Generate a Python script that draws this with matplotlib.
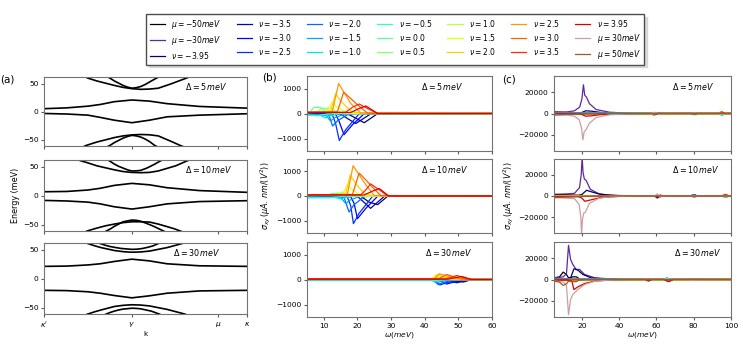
import matplotlib
matplotlib.use("Agg")
import matplotlib.pyplot as plt
import numpy as np

plt.rcParams['font.size'] = 5.4
plt.rcParams['axes.edgecolor'] = '0.45'
plt.rcParams['xtick.color'] = '0.35'
plt.rcParams['ytick.color'] = '0.35'
plt.rcParams['xtick.labelcolor'] = 'black'
plt.rcParams['ytick.labelcolor'] = 'black'
plt.rcParams['xtick.major.size'] = 2.5
plt.rcParams['ytick.major.size'] = 2.5
plt.rcParams['xtick.major.pad'] = 1.5
plt.rcParams['ytick.major.pad'] = 1.5

# ---------------- legend / series ----------------
nus = [-3.95, -3.5, -3.0, -2.5, -2.0, -1.5, -1.0, -0.5, 0.0, 0.5,
       1.0, 1.5, 2.0, 2.5, 3.0, 3.5, 3.95]
nu_labels = ['-3.95', '-3.5', '-3.0', '-2.5', '-2.0', '-1.5', '-1.0', '-0.5', '0.0', '0.5',
             '1.0', '1.5', '2.0', '2.5', '3.0', '3.5', '3.95']
mus_neg = [-50, -30]
mus_pos = [30, 50]
mu_colors = {-50: 'black', -30: '#5b2a9e', 30: '#c9a0a0', 50: '#9c5a32'}
nu_colors = plt.cm.jet(np.linspace(0, 0.92, len(nus)))

deltas = [5, 10, 30]

# ---------------- panel (a): bands ----------------
k_ticks = [0, 1.0, 1.98, 2.31]
k_labels = [r"$\kappa'$", r"$\gamma$", r"$\mu$", r"$\kappa$"]
k_flat = [0, 0.26, 0.5, 0.64, 0.8, 1.0, 1.2, 1.4, 1.77, 2.31]

flat_up = {5: [5.5, 7, 10, 13, 18, 21, 19, 14.5, 9.5, 6.5],
           10: [7, 7.5, 10, 13, 18, 21.5, 19, 14, 9, 6],
           30: [21.5, 22, 24, 26, 30, 34, 31, 26, 22.5, 21.5]}
flat_dn = {5: [-3, -4, -6, -10, -15, -19.5, -15, -9, -6, -3.5],
           10: [-8, -9, -11, -14, -19, -23, -19, -14, -10, -8.5],
           30: [-20, -20.5, -22.5, -25, -29, -33, -29.5, -25, -21, -20]}

disp_k = {
    5: [[0.42, 0.5, 0.6, 0.7, 0.8, 0.9, 1.0, 1.1, 1.2, 1.3, 1.45, 1.62, 1.7],
        [0.7, 0.75, 0.8, 0.85, 0.9, 0.95, 1.0, 1.05, 1.1, 1.15, 1.2, 1.28, 1.33],
        [0.4, 0.48, 0.6, 0.7, 0.8, 0.9, 1.0, 1.1, 1.2, 1.3, 1.45, 1.55, 1.63],
        [0.7, 0.75, 0.8, 0.85, 0.9, 0.95, 1.0, 1.05, 1.1, 1.15, 1.2, 1.26, 1.31]],
    10: [[0.35, 0.41, 0.5, 0.6, 0.8, 0.9, 1.0, 1.1, 1.2, 1.3, 1.5, 1.62, 1.7],
         [0.7, 0.75, 0.8, 0.85, 0.9, 0.95, 1.0, 1.05, 1.1, 1.17, 1.25, 1.32, 1.37],
         [0.43, 0.49, 0.6, 0.7, 0.8, 0.9, 1.0, 1.1, 1.2, 1.3, 1.48, 1.55, 1.62],
         [0.66, 0.71, 0.76, 0.8, 0.85, 0.9, 1.0, 1.05, 1.1, 1.17, 1.25, 1.36, 1.41]],
    30: [[0.43, 0.5, 0.58, 0.65, 0.8, 0.9, 1.0, 1.1, 1.2, 1.3, 1.4, 1.57, 1.64],
         [0.58, 0.64, 0.7, 0.75, 0.82, 0.88, 1.0, 1.06, 1.12, 1.18, 1.24, 1.30, 1.36],
         [0.43, 0.5, 0.58, 0.65, 0.8, 0.9, 1.0, 1.1, 1.2, 1.3, 1.4, 1.6, 1.67],
         [0.65, 0.71, 0.75, 0.8, 0.85, 0.9, 1.0, 1.05, 1.1, 1.16, 1.22, 1.31, 1.37]],
}
disp_e = {
    5: [[66, 60, 55, 51, 47, 43.5, 41.2, 40, 40.5, 42, 50, 60, 65],
        [64, 60, 55, 51, 47, 44, 42, 43, 45, 48.5, 53, 60, 64],
        [-66, -60, -54, -50, -46, -43, -41.2, -40.5, -41, -43, -53, -60, -65],
        [-64, -60, -55, -51, -47, -44, -42, -43, -45, -48.5, -53, -60, -64]],
    10: [[66, 61, 57, 52, 45, 42, 40.5, 40, 40.5, 43, 52, 60, 65],
         [64, 60, 55, 51, 48, 45, 43, 43.2, 44, 48, 54, 60, 64],
         [-66, -61, -56, -52, -49, -46.5, -45, -45, -45.5, -49, -57, -61, -65],
         [-65, -61, -57, -53, -49, -45, -42, -42.5, -44, -48, -53, -61, -65]],
    30: [[65, 61, 57, 54, 49, 47, 46, 46.5, 48, 51, 54, 61, 65],
         [65, 61, 58, 56, 54, 52.5, 51, 51.3, 52.5, 54.5, 57, 61, 65],
         [-65, -61, -57, -54, -48, -46, -45, -45.5, -47, -50, -53, -61, -65],
         [-65, -61, -58.5, -56, -54, -52.5, -51, -51.3, -52, -54, -56, -61, -65]],
}

# ---------------- panel (b): sigma_xy vs omega, nu series ----------------
sig_b = {
    5: [
        [(5, -20), (17, -10), (19, -150), (22, -370), (26, -5), (60, 0)],
        [(5, -25), (15, -15), (17, -200), (19.5, -400), (24, -10), (60, 0)],
        [(5, -30), (13.5, -30), (14.5, -300), (16, -850), (18.5, -450), (22, -10), (60, 0)],
        [(5, -40), (12.5, -40), (13.5, -400), (14.6, -1080), (16.5, -650), (20.5, -10), (60, 0)],
        [(5, -50), (11.5, -50), (12.6, -500), (14, -300), (17, -50), (20, 0), (60, 0)],
        [(5, -60), (10.5, -60), (12, -300), (13.5, -150), (17, 0), (60, 0)],
        [(5, -70), (9, -80), (10.5, -170), (12, -80), (15, 0), (60, 0)],
        [(5, -60), (8, -90), (10, -40), (14, 0), (60, 0)],
        [(5, 30), (6.1, 80), (7, 250), (9, 240), (10.7, 30), (14, 0), (60, 0)],
        [(5, 40), (8, 60), (9.5, 220), (11, 180), (12.5, 20), (16, 0), (60, 0)],
        [(5, 40), (10, 50), (11.3, 230), (12.5, 180), (14, 40), (17, 0), (60, 0)],
        [(5, 40), (11, 50), (12.5, 450), (14, 250), (17, 30), (20, 0), (60, 0)],
        [(5, 50), (12, 60), (13.5, 800), (15, 500), (18, 100), (21, 0), (60, 0)],
        [(5, 50), (12.5, 60), (14.4, 1200), (16, 850), (18, 400), (21, 20), (60, 0)],
        [(5, 50), (14, 60), (15.9, 850), (18, 600), (20, 350), (23, 10), (60, 0)],
        [(5, 50), (16.5, 50), (18.5, 250), (20.5, 380), (23, 200), (26, 0), (60, 0)],
        [(5, 40), (18, 40), (20.5, 200), (22.5, 300), (26, 0), (60, 0)],
    ],
    10: [
        [(5, -20), (21, -10), (23.5, -250), (26, -350), (29, -5), (60, 0)],
        [(5, -25), (20, -15), (21.5, -200), (23.9, -500), (28, -10), (60, 0)],
        [(5, -30), (18, -30), (19, -300), (20, -920), (22.5, -500), (26, -10), (60, 0)],
        [(5, -40), (17, -40), (18, -400), (18.8, -1120), (20.5, -700), (24.5, -10), (60, 0)],
        [(5, -50), (16, -50), (17.5, -650), (19, -350), (22, -30), (25, 0), (60, 0)],
        [(5, -60), (15, -60), (16.5, -300), (18, -150), (21, 0), (60, 0)],
        [(5, -70), (13.5, -60), (15, -120), (16.5, -60), (19, 0), (60, 0)],
        [(5, -50), (12, -60), (14, -40), (17, 0), (60, 0)],
        [(5, 30), (11, 40), (12.5, 100), (14, 90), (15.5, 20), (18, 0), (60, 0)],
        [(5, 40), (12.5, 50), (14, 120), (15.5, 90), (17, 10), (20, 0), (60, 0)],
        [(5, 40), (14, 50), (15.5, 150), (17, 100), (19, 20), (22, 0), (60, 0)],
        [(5, 40), (15.5, 50), (17, 450), (18.5, 250), (21, 30), (24, 0), (60, 0)],
        [(5, 50), (16.5, 60), (17.8, 850), (19.5, 500), (22, 100), (25, 0), (60, 0)],
        [(5, 50), (17, 60), (18.7, 1230), (20.3, 900), (22.5, 450), (25, 20), (60, 0)],
        [(5, 50), (18.5, 60), (20.5, 930), (22.5, 650), (24.5, 350), (27, 10), (60, 0)],
        [(5, 50), (21, 50), (22.5, 250), (23.9, 490), (26.5, 250), (29, 0), (60, 0)],
        [(5, 40), (22, 40), (24.5, 200), (26.5, 300), (29.3, 0), (60, 0)],
    ],
    30: [
        [(5, -10), (47, -10), (49, -60), (51.5, -100), (54, 0), (60, 0)],
        [(5, -10), (46, -10), (47.5, -60), (49.5, -130), (53.5, 0), (60, 0)],
        [(5, -15), (44, -15), (45, -80), (46.5, -180), (49, -90), (52.5, 0), (60, 0)],
        [(5, -15), (43, -20), (44.5, -220), (46.5, -130), (51, 0), (60, 0)],
        [(5, -20), (42.5, -20), (44, -200), (45.5, -120), (49, 0), (60, 0)],
        [(5, -20), (42, -20), (43.5, -130), (45, -70), (48, 0), (60, 0)],
        [(5, -20), (42, -20), (43, -80), (44.5, -40), (47, 0), (60, 0)],
        [(5, -20), (42, -20), (43, -40), (46, 0), (60, 0)],
        [(5, 10), (42, 10), (43, 50), (45, 0), (60, 0)],
        [(5, 15), (42, 15), (43, 80), (44.5, 40), (47, 0), (60, 0)],
        [(5, 15), (42, 15), (43, 120), (44.5, 60), (47, 0), (60, 0)],
        [(5, 15), (42, 20), (43.3, 170), (45, 90), (48, 0), (60, 0)],
        [(5, 20), (42.5, 20), (43.8, 200), (45.5, 110), (49, 0), (60, 0)],
        [(5, 20), (43, 20), (44.3, 230), (46.5, 140), (51, 0), (60, 0)],
        [(5, 20), (44, 20), (45, 90), (46.5, 200), (49, 100), (52.5, 0), (60, 0)],
        [(5, 20), (46, 20), (47.5, 70), (49.5, 160), (53.5, 0), (60, 0)],
        [(5, 15), (47, 15), (49, 70), (51, 120), (54, 0), (60, 0)],
    ],
}

# ---------------- panel (c): mu series ----------------
sig_c_mu = {
    5: {
        -50: [(5, 1500), (12, 800), (20, 300), (30, 0), (100, 0)],
        -30: [(5, 1200), (12, 1500), (16, 2500), (18.8, 6000), (20, 13800), (20.8, 26800),
              (21.5, 17000), (22.4, 15400), (24, 9200), (27.6, 3700), (34.8, 1200), (45, 300),
              (57, 0), (58.5, -1500), (60, -500), (61, 1000), (62.5, 0), (100, 0)],
        30: [(5, -1200), (12, -1500), (16, -2500), (18.6, -6000), (19.8, -13800), (20.5, -24600),
             (21.2, -17000), (22.1, -15400), (24, -9200), (27.6, -3700), (34.8, -1200), (45, -300),
             (57, 0), (58.5, 1200), (60, 500), (61, -1000), (62.5, 0), (100, 0)],
        50: [(5, -1500), (12, -800), (20, -300), (30, 0), (100, 0)],
    },
    10: {
        -50: [(5, 1500), (12, 1000), (20, 400), (30, 0), (100, 0)],
        -30: [(5, 1500), (12, 2000), (16, 2500), (18.7, 8000), (19.6, 20000), (20.1, 37000),
              (20.6, 22000), (21.3, 16000), (22.2, 14900), (24.5, 6300), (29, 2200), (35, 700),
              (50, 0), (59, 0), (60.5, -2000), (62, 1000), (63.5, 0), (100, 0)],
        30: [(5, -1500), (12, -2000), (16, -2500), (18.5, -8000), (19.4, -20000), (19.8, -37000),
             (20.3, -22000), (21, -16000), (21.8, -15500), (24, -7000), (29, -2200), (35, -700),
             (50, 0), (59, 0), (60.5, 2000), (62, -1000), (63.5, 0), (100, 0)],
        50: [(5, -1500), (12, -1000), (20, -400), (30, 0), (100, 0)],
    },
    30: {
        -50: [(5, 1500), (8, 2500), (9.9, 6900), (11.7, 4700), (12.8, 1500), (14, 1800),
              (15.1, 2500), (16.9, 2500), (18.7, 600), (22, 0), (100, 0)],
        -30: [(5, 1500), (8, 2000), (10, 2500), (11.7, 5600), (12.8, 31900), (13.9, 18750),
              (15.1, 14000), (16.9, 9400), (18.7, 9400), (21.4, 4700), (26.9, 1560), (35, 600),
              (45, 0), (100, 0)],
        30: [(5, -1500), (8, -2000), (10, -2500), (11.7, -5600), (12.8, -32800), (13.9, -18750),
             (15.1, -14000), (17.8, -9400), (21.4, -4700), (26.9, -1560), (35, -600), (45, 0),
             (77, 0), (79, -800), (81, 0), (83, 0), (84.5, -700), (86, 0), (100, 0)],
        50: [(5, -1500), (8, -2500), (9.9, -5600), (11.7, -4000), (12.8, -1500), (15.1, -2000),
             (16.9, -2000), (18.7, -500), (22, 0), (100, 0)],
    },
}

# ---------------- panel (c): nu series ----------------
sig_c_nu = {
    5: [
        [(5, 500), (18, 300), (20, 1000), (22, 2500), (25, 2200), (30, 1000), (40, 200),
         (58, 0), (59.5, -1000), (61, 0), (100, 0)],
        [(5, 300), (50, 0), (79, 0), (80.5, 800), (82, 0), (100, 0)],
        [(5, 300), (60, 0), (79, 0), (80.5, 600), (82, 0), (100, 0)],
        [(5, 200), (78, 0), (80, 500), (81.5, -300), (83, 0), (100, 0)],
        [(5, 200), (78, 0), (80, 800), (82, 0), (93, 0), (95, -600), (97, 0), (100, 0)],
        [(5, 100), (78, 0), (80, 1000), (82, 0), (93, 0), (95, -1000), (97, 0), (100, 0)],
        [(5, 100), (78, 0), (80.5, 600), (82, 0), (93, 0), (95.3, -1800), (97, 0), (100, 0)],
        [(5, 0), (93, 0), (95, -800), (97, 0), (100, 0)],
        [(5, 0), (100, 0)],
        [(5, 0), (93, 0), (95, 500), (97, 0), (100, 0)],
        [(5, -100), (93, 0), (95, 800), (97, 0), (100, 0)],
        [(5, -100), (93, 0), (95, 1000), (97, 0), (100, 0)],
        [(5, -200), (78, 0), (80, -500), (82, 0), (93, 0), (95, 1200), (97, 0), (100, 0)],
        [(5, -200), (78, 0), (80, -800), (82, 0), (93, 0), (95, 1500), (97, -300), (100, 0)],
        [(5, -300), (78, 0), (80.5, -1000), (82, 0), (93, 0), (95, 1800), (97, 0), (100, 0)],
        [(5, -300), (79, 0), (80.5, -700), (82, 0), (94, 0), (95.5, 1000), (97, 0), (100, 0)],
        [(5, -500), (18, -300), (20, -1000), (22, -2500), (25, -2200), (30, -1000), (40, -200),
         (58, 0), (60.5, -800), (62, 0), (100, 0)],
    ],
    10: [
        [(5, 800), (18, 500), (20, 1500), (22.5, 5400), (25, 4000), (30, 1500), (40, 300),
         (59, 0), (60.5, -1500), (62, 0), (100, 0)],
        [(5, 500), (60, 0), (78, 0), (80, 1000), (82, 0), (100, 0)],
        [(5, 400), (60, 0), (78, 0), (80.5, 1200), (82, 0), (100, 0)],
        [(5, 300), (78, 0), (80, 800), (82, -300), (83, 0), (100, 0)],
        [(5, 200), (78, 0), (80, 1000), (82, 0), (95, 0), (97, -800), (99, 0), (100, 0)],
        [(5, 100), (78, 0), (80, 900), (82, 0), (95, 0), (97, -1200), (99, 0), (100, 0)],
        [(5, 100), (78, 0), (80.5, 500), (82, 0), (95, 0), (97.5, -1500), (99, 0), (100, 0)],
        [(5, 0), (95, 0), (97, -600), (99, 0), (100, 0)],
        [(5, 0), (100, 0)],
        [(5, 0), (95, 0), (97, 400), (99, 0), (100, 0)],
        [(5, -100), (95, 0), (97, 700), (99, 0), (100, 0)],
        [(5, -100), (95, 0), (97, 900), (99, 0), (100, 0)],
        [(5, -200), (78, 0), (80, -600), (82, 0), (95, 0), (97, 1100), (99, 0), (100, 0)],
        [(5, -300), (78, 0), (80, -900), (82, 0), (95, 0), (97, 1400), (99, 0), (100, 0)],
        [(5, -400), (78, 0), (80.5, -1000), (82, 0), (95, 0), (97, 1700), (99, 0), (100, 0)],
        [(5, -500), (79, 0), (80.5, -600), (82, 0), (95, 0), (97, 1200), (99, 0), (100, 0)],
        [(5, -800), (18, -500), (20, -2000), (21.5, -5000), (24, -4000), (30, -1500), (40, -300),
         (59, 0), (61.5, -1000), (63, 0), (100, 0)],
    ],
    30: [
        [(5, 500), (12, 500), (13.9, 1500), (15.7, 10000), (17.8, 8750), (20.5, 4700), (25, 1500),
         (32, 500), (45, 0), (100, 0)],
        [(5, 300), (54, 0), (55.7, 600), (57.5, 0), (100, 0)],
        [(5, 300), (54, 0), (55.7, 400), (57.5, 0), (64, 0), (65.6, 600), (67, 0), (100, 0)],
        [(5, 200), (64, 0), (65.6, 800), (67, 0), (100, 0)],
        [(5, 200), (64, 0), (65.6, 1000), (67, 0), (100, 0)],
        [(5, 100), (64, 0), (65.6, 1300), (67, 0), (100, 0)],
        [(5, 100), (64, 0), (65.6, 1800), (67, 0), (100, 0)],
        [(5, 0), (64, 0), (65.8, 900), (67, 0), (100, 0)],
        [(5, 0), (100, 0)],
        [(5, 0), (64, 0), (66, -600), (67.5, 0), (100, 0)],
        [(5, -100), (64, 0), (66, -1000), (67.5, 0), (100, 0)],
        [(5, -100), (64, 0), (66, -1300), (67.5, 0), (100, 0)],
        [(5, -200), (64, 0), (66, -1200), (67.5, 0), (100, 0)],
        [(5, -200), (64, 0), (66.2, -1400), (68, 0), (100, 0)],
        [(5, -300), (54, 0), (55.7, -800), (57.5, 0), (64, 0), (66.5, -1500), (68.5, 0), (100, 0)],
        [(5, -300), (54, 0), (55.7, -1000), (57.5, 0), (64, 0), (66.5, -1800), (69, 0), (100, 0)],
        [(5, -500), (12, -500), (14.6, -1500), (15.7, -9400), (17.8, -6900), (21.4, -3750),
         (26.9, -1500), (35, -400), (45, 0), (54, 0), (55.7, -1500), (57.5, 0), (64, 0),
         (66.5, -2000), (69, 0), (100, 0)],
    ],
}

# text position of the Delta label in each panel (axes fraction)
txt_x = {'a': [0.695, 0.695, 0.636], 'b': [0.616, 0.616, 0.638], 'c': [0.667, 0.667, 0.68]}

# ---------------- figure ----------------
fig = plt.figure(figsize=(7.43, 3.44), dpi=100)
W, H = 743.0, 344.0


def add_ax(left, right, top, bottom):
    return fig.add_axes([left / W, 1 - bottom / H, (right - left) / W, (bottom - top) / H])


rows_a = [(77, 146), (160, 231), (243, 314)]
rows_bc = [(76, 151), (159, 233), (242, 317)]

axes_a = [add_ax(44, 247, t, b) for t, b in rows_a]
axes_b = [add_ax(307, 492, t, b) for t, b in rows_bc]
axes_c = [add_ax(554, 731, t, b) for t, b in rows_bc]

# panel (a)
for i, (ax, d) in enumerate(zip(axes_a, deltas)):
    ax.plot(k_flat, flat_up[d], color='black', lw=1.2)
    ax.plot(k_flat, flat_dn[d], color='black', lw=1.2)
    for kk, ee in zip(disp_k[d], disp_e[d]):
        ax.plot(kk, ee, color='black', lw=1.2)
    ax.set_xlim(k_ticks[0], k_ticks[-1])
    ax.set_ylim(-61, 62)
    ax.set_yticks([-50, 0, 50])
    ax.set_xticks(k_ticks)
    if i < 2:
        ax.set_xticklabels([])
    else:
        ax.set_xticklabels(k_labels)
        ax.set_xlabel("k", labelpad=1)
    ax.text(txt_x['a'][i], 0.86, r"$\Delta = %d\,meV$" % d, transform=ax.transAxes,
            ha='left', va='center', fontsize=5.8)
axes_a[1].set_ylabel("Energy (meV)", fontsize=5.8, labelpad=2)

# panel (b)
for i, (ax, d) in enumerate(zip(axes_b, deltas)):
    for pts, c in zip(sig_b[d], nu_colors):
        w, s = zip(*pts)
        ax.plot(w, s, color=c, lw=0.9)
    ax.set_xlim(5, 60)
    ax.set_ylim(-1500, 1500)
    ax.set_yticks([-1000, 0, 1000])
    ax.set_xticks([10, 20, 30, 40, 50, 60])
    if i < 2:
        ax.set_xticklabels([])
    else:
        ax.set_xlabel(r"$\omega(meV)$", labelpad=1)
    ax.text(txt_x['b'][i], 0.86, r"$\Delta = %d\,meV$" % d, transform=ax.transAxes,
            ha='left', va='center', fontsize=5.8)
axes_b[1].set_ylabel(r"$\sigma_{xy}\,(\mu A.\,nm/(V^2))$", fontsize=5.8, labelpad=2)

# panel (c)
handles = {}
for i, (ax, d) in enumerate(zip(axes_c, deltas)):
    for m in mus_neg:
        w, s = zip(*sig_c_mu[d][m])
        handles['mu%d' % m], = ax.plot(w, s, color=mu_colors[m], lw=0.9)
    for pts, c, nl in zip(sig_c_nu[d], nu_colors, nu_labels):
        w, s = zip(*pts)
        handles['nu' + nl], = ax.plot(w, s, color=c, lw=0.9)
    for m in mus_pos:
        w, s = zip(*sig_c_mu[d][m])
        handles['mu%d' % m], = ax.plot(w, s, color=mu_colors[m], lw=0.9)
    ax.set_xlim(5, 100)
    ax.set_ylim(-35000, 35000)
    ax.set_yticks([-20000, 0, 20000])
    ax.set_xticks([20, 40, 60, 80, 100])
    if i < 2:
        ax.set_xticklabels([])
    else:
        ax.set_xlabel(r"$\omega(meV)$", labelpad=1)
    ax.text(txt_x['c'][i], 0.86, r"$\Delta = %d\,meV$" % d, transform=ax.transAxes,
            ha='left', va='center', fontsize=5.8)
axes_c[1].set_ylabel(r"$\sigma_{xy}\,(\mu A.\,nm/(V^2))$", fontsize=5.8, labelpad=2)

# panel letters
fig.text(0 / W, 1 - 80 / H, "(a)", fontsize=7.5, va='center', ha='left')
fig.text(262 / W, 1 - 78 / H, "(b)", fontsize=7.5, va='center', ha='left')
fig.text(502 / W, 1 - 79 / H, "(c)", fontsize=7.5, va='center', ha='left')

# shared legend
leg_keys = ['mu-50', 'mu-30'] + ['nu' + nl for nl in nu_labels] + ['mu30', 'mu50']
leg_labels = [r"$\mu=-50meV$", r"$\mu=-30meV$"] + \
             [r"$\nu=%s$" % nl for nl in nu_labels] + \
             [r"$\mu=30meV$", r"$\mu=50meV$"]
fig.legend([handles[k] for k in leg_keys], leg_labels, ncol=7, loc='upper center',
           bbox_to_anchor=(395 / W, 1 - 10 / H), fontsize=5.5, fancybox=False,
           shadow={'color': '0.75'}, edgecolor='0.3', framealpha=1,
           labelspacing=0.4, borderpad=0.5)

fig.savefig("out.png", dpi=100)
